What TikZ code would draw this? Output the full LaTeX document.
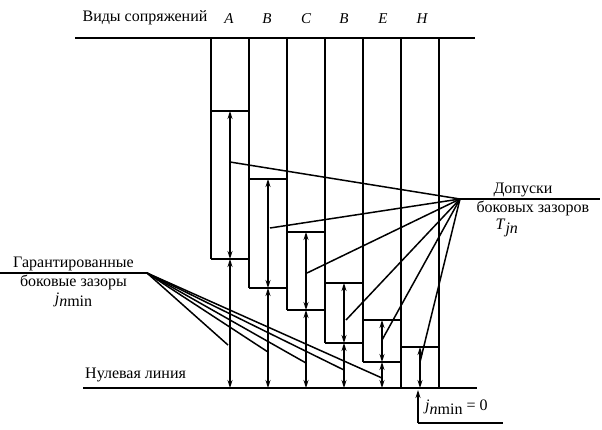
\documentclass[tikz,border=0pt]{standalone}
\usepackage{fontspec}
\setmainfont{Liberation Serif}
\usetikzlibrary{arrows.meta,positioning,calc}

\begin{document}
\begin{tikzpicture}[
    x=1pt, y=-1pt,
    base/.style={line width=2.2pt},
    edge/.style={line width=1.6pt},
    dim/.style={line width=1.1pt, {Stealth[length=8pt,width=5pt]}-{Stealth[length=8pt,width=5pt]}},
    up/.style={line width=1.1pt, -{Stealth[length=8pt,width=5pt]}},
    lead/.style={line width=1.5pt},
    lbl/.style={font=\fontsize{16}{18}\selectfont, inner sep=1pt},
    let/.style={font=\fontsize{15}{17}\selectfont\itshape, inner sep=1pt}
]
\useasboundingbox (0,0) rectangle (602,429);

% top and zero lines
\coordinate (tl) at (75,38);
\coordinate (tr) at (475,38);
\coordinate (zl) at (83,388);
\coordinate (zr) at (477,388);
\draw[base] (tl) -- (tr);
\draw[base] (zl) -- (zr);

% headers
\node[lbl] (vid) at (145,18) {Виды сопряжений};
\node[let] (la) at (229,19) {A};
\node[let] (lb) at (267,19) {B};
\node[let] (lc) at (306,19) {C};
\node[let] (ld) at (344,19) {B};
\node[let] (le) at (383,19) {E};
\node[let] (lh) at (422,19) {H};
\node[lbl, anchor=west] (zero) at (84,375) {Нулевая линия};

% column walls
\draw[edge] (211,38) -- (211,259);
\draw[edge] (249,38) -- (249,288);
\draw[edge] (287,38) -- (287,310);
\draw[edge] (325,38) -- (325,343);
\draw[edge] (363,38) -- (363,362);
\draw[edge] (401,38) -- (401,388);
\draw[edge] (439,38) -- (439,388);

% A
\coordinate (aT) at (230,111);
\coordinate (aB) at (230,259);
\coordinate (aZ) at (230,388);
\draw[edge] (211,111) -- (249,111) (211,259) -- (249,259);
\draw[dim] (aT) -- (aB);
\draw[dim] (aB) -- (aZ);

% B
\coordinate (bT) at (268,179);
\coordinate (bB) at (268,288);
\coordinate (bZ) at (268,388);
\draw[edge] (249,179) -- (287,179) (249,288) -- (287,288);
\draw[dim] (bT) -- (bB);
\draw[dim] (bB) -- (bZ);

% C
\coordinate (cT) at (306,232);
\coordinate (cB) at (306,310);
\coordinate (cZ) at (306,388);
\draw[edge] (287,232) -- (325,232) (287,310) -- (325,310);
\draw[dim] (cT) -- (cB);
\draw[dim] (cB) -- (cZ);

% D
\coordinate (dT) at (344,283);
\coordinate (dB) at (344,343);
\coordinate (dZ) at (344,388);
\draw[edge] (325,283) -- (363,283) (325,343) -- (363,343);
\draw[dim] (dT) -- (dB);
\draw[dim] (dB) -- (dZ);

% E
\coordinate (eT) at (382,320);
\coordinate (eB) at (382,362);
\coordinate (eZ) at (382,388);
\draw[edge] (363,320) -- (401,320) (363,362) -- (401,362);
\draw[dim] (eT) -- (eB);
\draw[dim] (eB) -- (eZ);

% H
\coordinate (hT) at (420,347);
\coordinate (hZ) at (420,388);
\draw[edge] (401,347) -- (439,347);
\draw[dim] (hT) -- (hZ);

% tolerance leaders
\coordinate (tf) at (460,199);
\coordinate (tend) at (600,199);
\draw[lead] (tf) -- (tend);
\node[lbl, above=1pt of $(tf)!0.45!(tend)$] (tol1) {Допуски};
\node[lbl, below=1pt of $(tf)!0.52!(tend)$] (tol2) {боковых зазоров};
\node[lbl, below=1pt of tol2.south, xshift=-26pt] (tol3) {\textit{T}\raisebox{-0.5ex}{\textit{jn}}};
\draw[lead] (tf) -- (230,162);
\draw[lead] (tf) -- (270,228);
\draw[lead] (tf) -- (307,273);
\draw[lead] (tf) -- (346,320);
\draw[lead] (tf) -- (382,340);
\draw[lead] (tf) -- (420,362);

% clearance leaders
\coordinate (gf) at (147,273);
\coordinate (gend) at (0,273);
\draw[lead] (gend) -- (gf);
\node[lbl, above=1pt of $(gf)!0.5!(gend)$] (gar1) {Гарантированные};
\node[lbl, below=1pt of $(gf)!0.5!(gend)$] (gar2) {боковые зазоры};
\node[lbl, below=0pt of gar2] (gar3) {\textit{j}\raisebox{-0.5ex}{\textit{n}min}};
\draw[lead] (gf) -- (228,345);
\draw[lead] (gf) -- (268,352);
\draw[lead] (gf) -- (306,363);
\draw[lead] (gf) -- (344,370);
\draw[lead] (gf) -- (382,378);

% zero clearance
\coordinate (jz) at (418,390);
\coordinate (jc) at (418,423);
\coordinate (je) at (503,423);
\draw[up] (jc) -- (jz);
\draw[lead] (jc) -- (je);
\node[lbl, anchor=west] (jzero) at (424,407) {\textit{j}\raisebox{-0.5ex}{\textit{n}min} = 0};
\end{tikzpicture}
\end{document}
